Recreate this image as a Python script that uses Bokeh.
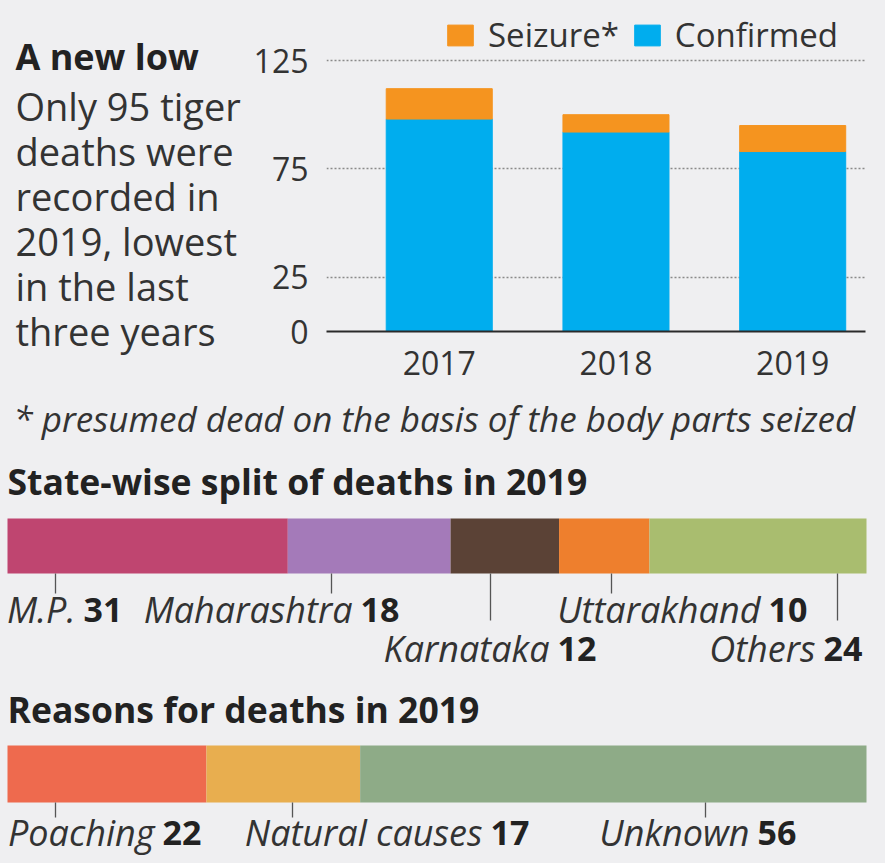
from bokeh.plotting import figure
from bokeh.layouts import column, row
from bokeh.models import Range1d, FixedTicker, Legend, LegendItem, ColumnDataSource
from bokeh.embed import file_html
from bokeh.resources import INLINE
from bokeh.core.properties import value

# ---------------- data ----------------
years = [2017, 2018, 2019]
confirmed = [98, 92, 83]
seizure = [14, 8, 12]
y_ticks = [0, 25, 75, 125]

states = ["M.P.", "Maharashtra", "Karnataka", "Uttarakhand", "Others"]
state_deaths = [31, 18, 12, 10, 24]

reasons = ["Poaching", "Natural causes", "Unknown"]
reason_deaths = [22, 17, 56]

# ---------------- style ----------------
BG = "#efeff1"
FONT = "Open Sans"
TXT = "#333333"
DARK = "#222222"
BLUE = "#00adee"
ORANGE = "#f5941f"
STATE_COLORS = ["#bf4570", "#a47ab9", "#5b4236", "#ee7f2d", "#a9bd6f"]
REASON_COLORS = ["#ee6a4e", "#e8ae4f", "#8eab87"]

W, H = 885, 863
TOP_H = 389
LEFT_W = 250
# chart frame edges on the page
FL, FR, FT, FB = 325, 865, 8, 331
PX_PER_UNIT = 2.168
DY = -2  # middle-baseline correction


def base_fig(w, h, xr, yr, **kw):
    return figure(width=w, height=h, x_range=xr, y_range=yr, output_backend="svg",
                  toolbar_location=None, background_fill_color=BG,
                  border_fill_color=BG, outline_line_color=None,
                  frame_align=False, **kw)


# ---------------- left text panel ----------------
left = base_fig(LEFT_W, TOP_H, Range1d(0, LEFT_W), Range1d(TOP_H, 0),
                x_axis_type=None, y_axis_type=None, min_border=0)
left.grid.visible = False
left.text(x=[15], y=[58 + DY], text=["A new low"], text_baseline="middle",
          text_font=value(FONT), text_font_style="bold", text_font_size="36px",
          text_color=DARK)
body = ["Only 95 tiger", "deaths were", "recorded in", "2019, lowest",
        "in the last", "three years"]
left.text(x=[15] * len(body), y=[107 + 45 * i + DY for i in range(len(body))],
          text=body, text_baseline="middle", text_font=value(FONT),
          text_font_size="38px", text_color=TXT)

# ---------------- bar chart ----------------
src = ColumnDataSource(dict(years=years, confirmed=confirmed, seizure=seizure))
chart = base_fig(W - LEFT_W, TOP_H, Range1d(2016.362, 2019.412),
                 Range1d(0, (FB - FT) / PX_PER_UNIT),
                 min_border_left=FL - LEFT_W, min_border_right=W - FR,
                 min_border_top=FT, min_border_bottom=TOP_H - FB)
rends = chart.vbar_stack(["confirmed", "seizure"], x="years", width=0.6,
                         color=[BLUE, ORANGE], source=src)
chart.xgrid.visible = False
chart.ygrid.ticker = FixedTicker(ticks=[t for t in y_ticks if t > 0])
chart.ygrid.grid_line_color = "#8a8a8a"
chart.ygrid.grid_line_dash = "2 2"
chart.ygrid.grid_line_width = 1.5

chart.yaxis.ticker = FixedTicker(ticks=y_ticks)
chart.yaxis.axis_line_color = None
chart.yaxis.major_tick_line_color = None
chart.yaxis.minor_tick_line_color = None
chart.yaxis.major_label_standoff = 12
chart.yaxis.major_label_text_font = FONT
chart.yaxis.major_label_text_font_size = "32px"
chart.yaxis.major_label_text_color = TXT

chart.xaxis.ticker = FixedTicker(ticks=years)
chart.xaxis.major_label_overrides = {y: str(y) for y in years}
chart.xaxis.axis_line_color = "#2a2a2a"
chart.xaxis.axis_line_width = 2
chart.xaxis.major_tick_line_color = None
chart.xaxis.minor_tick_line_color = None
chart.xaxis.major_label_standoff = 13
chart.xaxis.major_label_text_font = FONT
chart.xaxis.major_label_text_font_size = "32px"
chart.xaxis.major_label_text_color = TXT

legend = Legend(items=[LegendItem(label="Seizure*", renderers=[rends[1]]),
                       LegendItem(label="Confirmed", renderers=[rends[0]])],
                location=(118, 274), orientation="horizontal",
                background_fill_alpha=0, border_line_color=None,
                label_text_font=FONT, label_text_font_size="33px",
                label_text_color=TXT, glyph_width=32, glyph_height=26,
                label_standoff=12, spacing=12, padding=0, margin=0)
chart.add_layout(legend)

# ---------------- lower panels ----------------
PXU = 859 / 95.0  # pixels per death in the split bars


def ux(px):
    return (px - 7) / PXU


LOW_H = H - TOP_H
low = base_fig(W, LOW_H, Range1d(ux(0), ux(W)), Range1d(H, TOP_H),
               x_axis_type=None, y_axis_type=None, min_border=0)
low.grid.visible = False

low.text(x=[ux(13)], y=[418],
         text=["* presumed dead on the basis of the body parts seized"],
         text_baseline="middle", text_font=value(FONT),
         text_font_style="italic", text_font_size="35px", text_color=TXT)


def split_bar(title, title_y, names, vals, colors, bar_y, bar_h,
              num_px, rows, tick_px, row_mid, tick_len):
    low.text(x=[ux(7)], y=[title_y + DY], text=[title], text_baseline="middle",
             text_font=value(FONT), text_font_style="bold",
             text_font_size="35.5px", text_color=DARK)
    rights = []
    acc = 0
    for v in vals:
        acc += v
        rights.append(acc)
    lefts = [r - v for r, v in zip(rights, vals)]
    low.hbar(y=[bar_y] * len(vals), height=bar_h, left=lefts, right=rights,
             fill_color=colors, line_color=None)
    bottom = bar_y + bar_h / 2.0
    low.segment(x0=[ux(t) for t in tick_px], x1=[ux(t) for t in tick_px],
                y0=[bottom] * len(tick_px),
                y1=[bottom + tick_len[r] for r in rows],
                line_color="#555555", line_width=1.3)
    ys = [row_mid[r] + DY for r in rows]
    low.text(x=[ux(n - 8) for n in num_px], y=ys, text=names,
             text_align="right", text_baseline="middle",
             text_font=value(FONT), text_font_style="italic",
             text_font_size="36px", text_color=TXT)
    low.text(x=[ux(n) for n in num_px], y=ys, text=[str(v) for v in vals],
             text_align="left", text_baseline="middle",
             text_font=value(FONT), text_font_style="bold",
             text_font_size="34px", text_color=DARK)


split_bar("State-wise split of deaths in 2019", 482, states, state_deaths,
          STATE_COLORS, 545.5, 55, [83, 360, 557, 768, 823], [0, 0, 1, 0, 1],
          [55, 331, 490, 611, 837], [611, 650], [20, 47])

split_bar("Reasons for deaths in 2019", 710, reasons, reason_deaths,
          REASON_COLORS, 773.5, 57, [162, 490, 757], [0, 0, 0],
          [55, 292, 705], [834], [15])

layout = column(row(left, chart, styles={"background-color": BG}), low,
                styles={"background-color": BG})
open("out.html", "w").write(file_html(layout, INLINE))
